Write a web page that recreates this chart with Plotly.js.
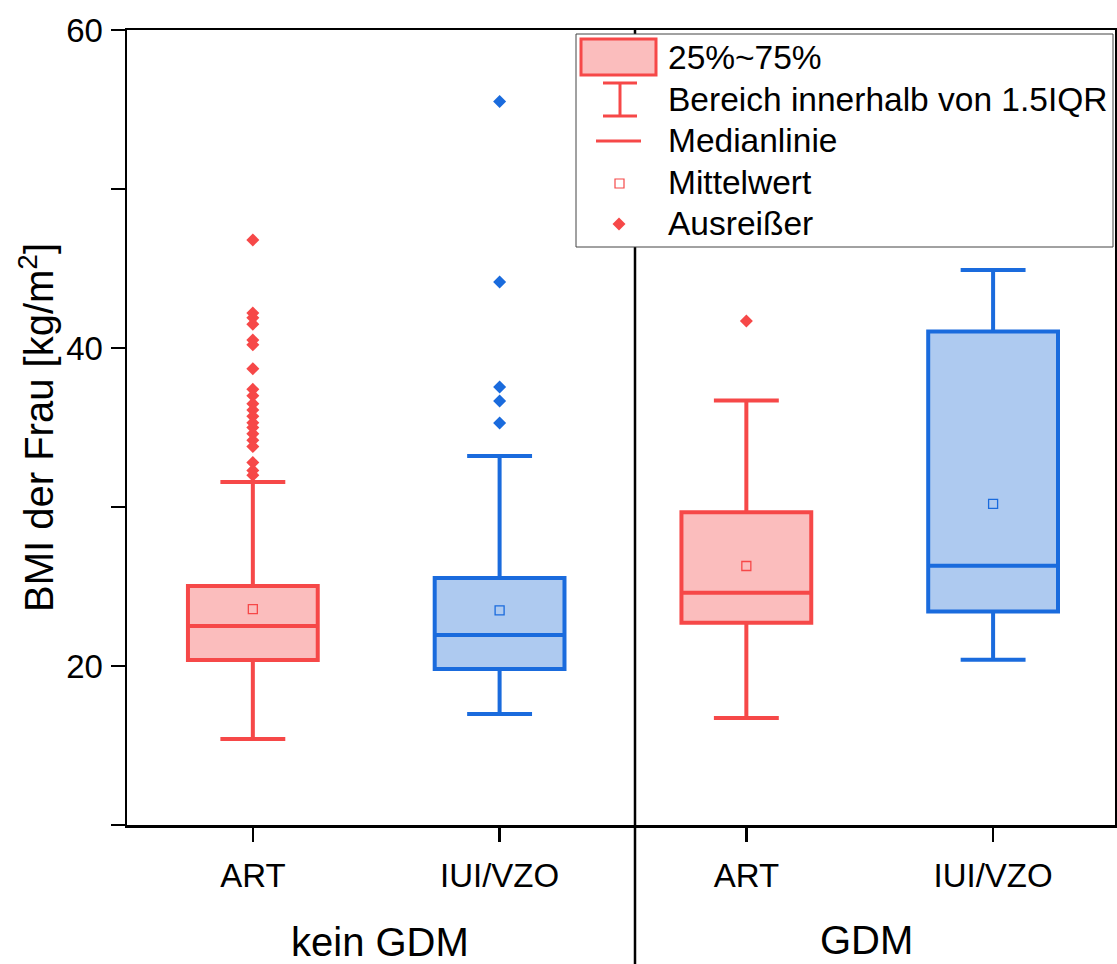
<!DOCTYPE html>
<html><head><meta charset="utf-8">
<script src="https://cdn.plot.ly/plotly-3.0.1.min.js"></script>
<style>html,body{margin:0;padding:0;background:#fff}#chart{width:1117px;height:964px}</style>
</head><body><div id="chart"></div>
<script>
// ---- data ----
const categories = ['ART', 'IUI/VZO', 'ART', 'IUI/VZO'];
const groupLabels = ['kein GDM', 'GDM'];
const q1 = [20.38, 19.81, 22.72, 23.42];
const medians = [22.52, 21.95, 24.6, 26.3];
const q3 = [25.03, 25.53, 29.67, 41.03];
const lowerWhiskers = [15.41, 16.98, 16.73, 20.4];
const upperWhiskers = [31.57, 33.2, 36.7, 44.9];
const means = [23.58, 23.5, 26.29, 30.2];
const outliersArtKeinGdm = [46.8, 42.2, 41.9, 41.5, 40.5, 40.2, 38.7, 37.4, 37.0, 36.5, 36.1, 35.7, 35.3, 35.0, 34.6, 34.2, 33.8, 32.8, 32.3, 32.0];
const outliersIuiKeinGdm = [55.5, 44.15, 37.55, 36.67, 35.28];
const outliersArtGdm = [41.7];
const outliersIuiGdm = [];
const legendLabels = ['25%~75%', 'Bereich innerhalb von 1.5IQR', 'Medianlinie', 'Mittelwert', 'Ausreißer'];

// ---- styling ----
const RED = '#F64848', RED_FILL = '#FBBDBD';
const BLUE = '#1A6BDD', BLUE_FILL = '#AECAF0';
const FONT = 'Liberation Sans, Arial, sans-serif';
const positions = [1, 2, 3, 4];
const lineColors = [RED, BLUE, RED, BLUE];
const fillColors = [RED_FILL, BLUE_FILL, RED_FILL, BLUE_FILL];
const outlierSets = [outliersArtKeinGdm, outliersIuiKeinGdm, outliersArtGdm, outliersIuiGdm];

const W = 1117, H = 964;
const M = {l: 127, r: 2, t: 30, b: 139};
const PW = W - M.l - M.r, PH = H - M.t - M.b;
const px = v => (v - M.l) / PW;
const py = v => (H - M.b - v) / PH;

const traces = [];
positions.forEach((p, i) => {
  traces.push({
    type: 'box', x: [p], q1: [q1[i]], median: [medians[i]], q3: [q3[i]],
    lowerfence: [lowerWhiskers[i]], upperfence: [upperWhiskers[i]],
    width: 0.526, whiskerwidth: 0.5, boxpoints: false,
    line: {color: lineColors[i], width: 4}, fillcolor: fillColors[i],
    showlegend: false, hoverinfo: 'skip'
  });
});
positions.forEach((p, i) => {
  traces.push({
    type: 'scatter', mode: 'markers', x: [p], y: [means[i]],
    marker: {symbol: 'square-open', size: 9, color: lineColors[i], line: {width: 1.3, color: lineColors[i]}},
    showlegend: false, hoverinfo: 'skip', cliponaxis: false
  });
  if (outlierSets[i].length) {
    traces.push({
      type: 'scatter', mode: 'markers', x: outlierSets[i].map(() => p), y: outlierSets[i],
      marker: {symbol: 'diamond', size: 10, color: lineColors[i]},
      showlegend: false, hoverinfo: 'skip', cliponaxis: false
    });
  }
});

const shapes = [];
const annotations = [];
// divider between groups
shapes.push({type: 'line', xref: 'paper', yref: 'paper', x0: px(635), x1: px(635), y0: 1, y1: py(964), line: {color: '#000', width: 2.5}});
// legend frame
shapes.push({type: 'rect', xref: 'paper', yref: 'paper', x0: px(576), x1: px(1113), y0: py(34), y1: py(247), line: {color: '#444', width: 1}, fillcolor: '#fff'});
// box symbol
shapes.push({type: 'rect', xref: 'paper', yref: 'paper', x0: px(581), x1: px(656), y0: py(39), y1: py(75), line: {color: RED, width: 3}, fillcolor: RED_FILL});
// whisker symbol
shapes.push({type: 'line', xref: 'paper', yref: 'paper', x0: px(620), x1: px(620), y0: py(83), y1: py(116), line: {color: RED, width: 3}});
shapes.push({type: 'line', xref: 'paper', yref: 'paper', x0: px(603), x1: px(637), y0: py(83), y1: py(83), line: {color: RED, width: 3}});
shapes.push({type: 'line', xref: 'paper', yref: 'paper', x0: px(603), x1: px(637), y0: py(116), y1: py(116), line: {color: RED, width: 3}});
// median symbol
shapes.push({type: 'line', xref: 'paper', yref: 'paper', x0: px(596), x1: px(641), y0: py(141), y1: py(141), line: {color: RED, width: 3}});
// mean symbol
shapes.push({type: 'rect', xref: 'paper', yref: 'paper', x0: px(615), x1: px(624), y0: py(179), y1: py(188), line: {color: RED, width: 1.2}, fillcolor: 'rgba(0,0,0,0)'});
// outlier symbol
const dcx = 619, dcy = 224, dr = 6.5;
shapes.push({type: 'path', xref: 'paper', yref: 'paper',
  path: `M ${px(dcx)} ${py(dcy - dr)} L ${px(dcx + dr)} ${py(dcy)} L ${px(dcx)} ${py(dcy + dr)} L ${px(dcx - dr)} ${py(dcy)} Z`,
  line: {width: 0}, fillcolor: RED});
const legendY = [58, 100, 141, 183, 224];
legendLabels.forEach((t, i) => {
  annotations.push({xref: 'paper', yref: 'paper', x: px(666), y: py(legendY[i]), xanchor: 'left', yanchor: 'middle',
    text: t, showarrow: false, font: {family: FONT, size: 33.5, color: '#000'}});
});
// group labels
annotations.push({xref: 'paper', yref: 'paper', x: px(380), y: py(942), xanchor: 'center', yanchor: 'middle',
  text: groupLabels[0], showarrow: false, font: {family: FONT, size: 40, color: '#000'}});
annotations.push({xref: 'paper', yref: 'paper', x: px(866), y: py(940), xanchor: 'center', yanchor: 'middle',
  text: groupLabels[1], showarrow: false, font: {family: FONT, size: 40, color: '#000'}});

const layout = {
  width: W, height: H, margin: M,
  paper_bgcolor: '#fff', plot_bgcolor: '#fff',
  font: {family: FONT, color: '#000'},
  showlegend: false,
  xaxis: {
    range: [0.49, 4.494], tickmode: 'array', tickvals: positions, ticktext: categories,
    ticks: 'outside', ticklen: 14, tickwidth: 2.5, tickcolor: '#000',
    showline: true, linewidth: 2.5, linecolor: '#000', mirror: true,
    showgrid: false, zeroline: false, ticklabelstandoff: 6,
    tickfont: {family: FONT, size: 33, color: '#000'}
  },
  yaxis: {
    range: [10, 60], tickmode: 'array', tickvals: [20, 40, 60],
    minor: {tickmode: 'array', tickvals: [10, 30, 50], ticks: 'outside', ticklen: 14, tickwidth: 2.5, tickcolor: '#000', showgrid: false},
    ticks: 'outside', ticklen: 14, tickwidth: 2.5, tickcolor: '#000',
    showline: true, linewidth: 2.5, linecolor: '#000', mirror: true,
    showgrid: false, zeroline: false, ticklabelstandoff: 1,
    tickfont: {family: FONT, size: 33, color: '#000'},
    title: {text: 'BMI der Frau [kg/m<sup>2</sup>]', font: {family: FONT, size: 40, color: '#000'}, standoff: 0}
  },
  shapes: shapes, annotations: annotations
};

Plotly.newPlot('chart', traces, layout, {staticPlot: true, displayModeBar: false});
</script>
</body></html>
